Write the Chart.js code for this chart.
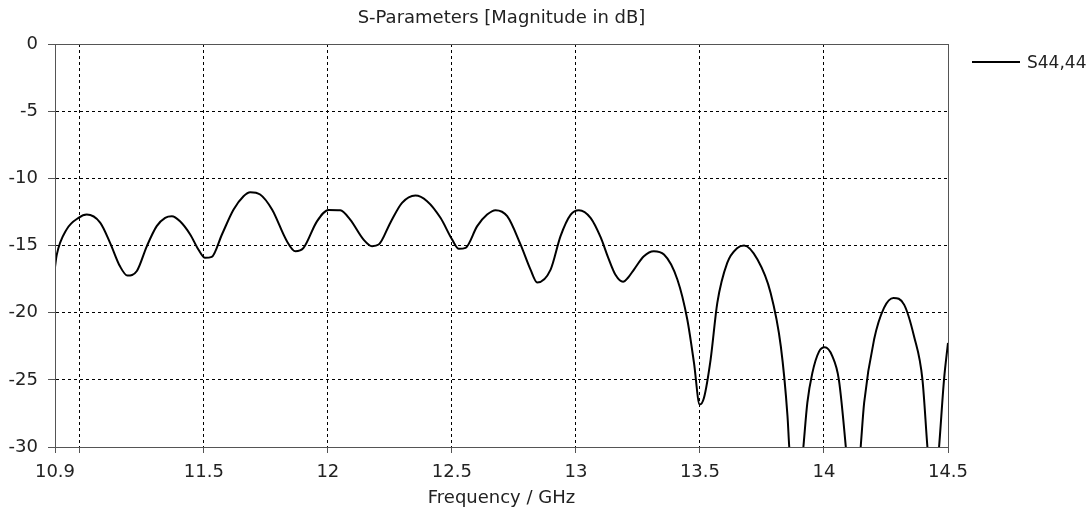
<!DOCTYPE html>
<html>
<head>
<meta charset="utf-8">
<script src="https://cdn.jsdelivr.net/npm/chart.js@4.4.1/dist/chart.umd.min.js"></script>
<style>
  body { margin: 0; background: #fff; font-family: "DejaVu Sans", sans-serif; }
  #wrap { position: relative; width: 1092px; height: 517px; }
  #legend { position: absolute; left: 972px; top: 52px; height: 20px; display: flex; align-items: center; color: #222; font-size: 17px; }
  #legend .swatch { width: 48px; height: 2px; background: #000; margin-right: 7px; }
</style>
</head>
<body>
<div id="wrap">
  <canvas id="chart"></canvas>
  <div id="legend"><span class="swatch"></span><span>S44,44</span></div>
</div>
<script>
// frequency points (GHz) and S44,44 magnitude (dB)
const freqs = [
  10.900, 10.907, 10.947, 10.995, 11.028, 11.082, 11.122, 11.162, 11.192, 11.230,
  11.270, 11.310, 11.344, 11.371, 11.404, 11.445, 11.478, 11.505, 11.532, 11.573,
  11.620, 11.660, 11.687, 11.727, 11.775, 11.835, 11.869, 11.902, 11.956, 12.003,
  12.050, 12.090, 12.144, 12.178, 12.205, 12.252, 12.299, 12.353, 12.400, 12.454,
  12.501, 12.528, 12.555, 12.602, 12.642, 12.676, 12.723, 12.777, 12.817, 12.844,
  12.898, 12.938, 12.979, 13.012, 13.059, 13.100, 13.130, 13.160, 13.190, 13.210,
  13.234, 13.274, 13.314, 13.355, 13.409, 13.449, 13.476, 13.499, 13.516, 13.543,
  13.570, 13.610, 13.651, 13.678, 13.732, 13.785, 13.826, 13.853, 13.860, 13.888,
  13.917, 13.933, 13.953, 13.980, 14.003, 14.034, 14.060, 14.088, 14.118, 14.148,
  14.162, 14.202, 14.242, 14.280, 14.323, 14.363, 14.397, 14.417, 14.440, 14.464,
  14.484, 14.500
];
const s4444 = [
  -16.6, -15.7, -13.8, -12.94, -12.7, -13.3, -14.8, -16.55, -17.24, -16.9,
  -15.06, -13.56, -12.94, -12.82, -13.2, -14.18, -15.3, -15.92, -15.85, -14.18,
  -12.32, -11.33, -11.03, -11.2, -12.32, -14.68, -15.43, -15.18, -13.2, -12.35,
  -12.37, -13.07, -14.56, -15.05, -14.93, -13.3, -11.83, -11.28, -11.7, -12.94,
  -14.56, -15.25, -15.18, -13.56, -12.7, -12.37, -12.82, -14.93, -16.79, -17.75,
  -16.79, -14.3, -12.7, -12.37, -12.94, -14.4, -15.9, -17.2, -17.7, -17.4,
  -16.79, -15.8, -15.43, -15.67, -17.53, -20.51, -23.74, -26.84, -26.35, -23.49,
  -19.27, -16.29, -15.18, -15.0, -16.05, -18.53, -22.5, -27.71, -30, -36,
  -30, -26.7, -24.5, -22.9, -22.58, -23.25, -24.98, -30, -37, -30,
  -26.7, -22.0, -19.64, -18.9, -19.4, -21.76, -24.98, -30, -35, -30,
  -24.98, -22.25
];
// gridlines sit at every entry; 11 gets a line but no label, as in the original
const xTicks = [10.9, 11, 11.5, 12, 12.5, 13, 13.5, 14, 14.5];
const xHiddenLabels = [11];

const frameColor = '#555';

// box around the whole plot area
const framePlugin = {
  id: 'frame',
  afterDatasetsDraw(chart) {
    const { ctx, chartArea: a } = chart;
    ctx.save();
    ctx.strokeStyle = frameColor;
    ctx.lineWidth = 1;
    ctx.strokeRect(Math.round(a.left) + 0.5, Math.round(a.top) + 0.5,
      Math.round(a.right - a.left), Math.round(a.bottom - a.top));
    ctx.restore();
  }
};

Chart.defaults.font.family = '"DejaVu Sans", sans-serif';
Chart.defaults.font.size = 18;
Chart.defaults.color = '#222';

new Chart(document.getElementById('chart'), {
  type: 'line',
  data: {
    datasets: [{
      label: 'S44,44',
      data: freqs.map((f, i) => ({ x: f, y: s4444[i] })),
      borderColor: '#000',
      borderWidth: 2,
      pointRadius: 0,
      cubicInterpolationMode: 'monotone'
    }]
  },
  options: {
    responsive: true,
    maintainAspectRatio: false,
    animation: false,
    layout: { padding: { top: 8, right: 144, left: 0, bottom: 0 } },
    plugins: {
      legend: { display: false },
      tooltip: { enabled: false },
      title: {
        display: true,
        fullSize: false,
        text: 'S-Parameters [Magnitude in dB]',
        font: { size: 18, weight: 'normal', lineHeight: 1.2 },
        color: '#222',
        // 8 + 21.6 + 14.4 puts the plot top on a whole pixel
        padding: { top: 0, bottom: 14.4 }
      }
    },
    scales: {
      x: {
        type: 'linear',
        min: 10.9,
        max: 14.5,
        afterBuildTicks: axis => { axis.ticks = xTicks.map(v => ({ value: v })); },
        afterFit: axis => { axis.height = 70; },
        ticks: {
          autoSkip: false, maxRotation: 0, padding: 9,
          callback: v => (xHiddenLabels.includes(v) ? '' : String(v))
        },
        grid: { color: '#000', lineWidth: 1, tickLength: 6, tickColor: frameColor },
        border: { color: frameColor, dash: [3, 3] },
        title: { display: true, text: 'Frequency / GHz', padding: { top: 0, bottom: 8 } }
      },
      y: {
        min: -30,
        max: 0,
        afterFit: axis => { axis.width = 55; },
        ticks: { stepSize: 5, padding: 10 },
        grid: { color: '#000', lineWidth: 1, tickLength: 7, tickColor: frameColor },
        border: { color: frameColor, dash: [3, 3] }
      }
    }
  },
  plugins: [framePlugin]
});
</script>
</body>
</html>
